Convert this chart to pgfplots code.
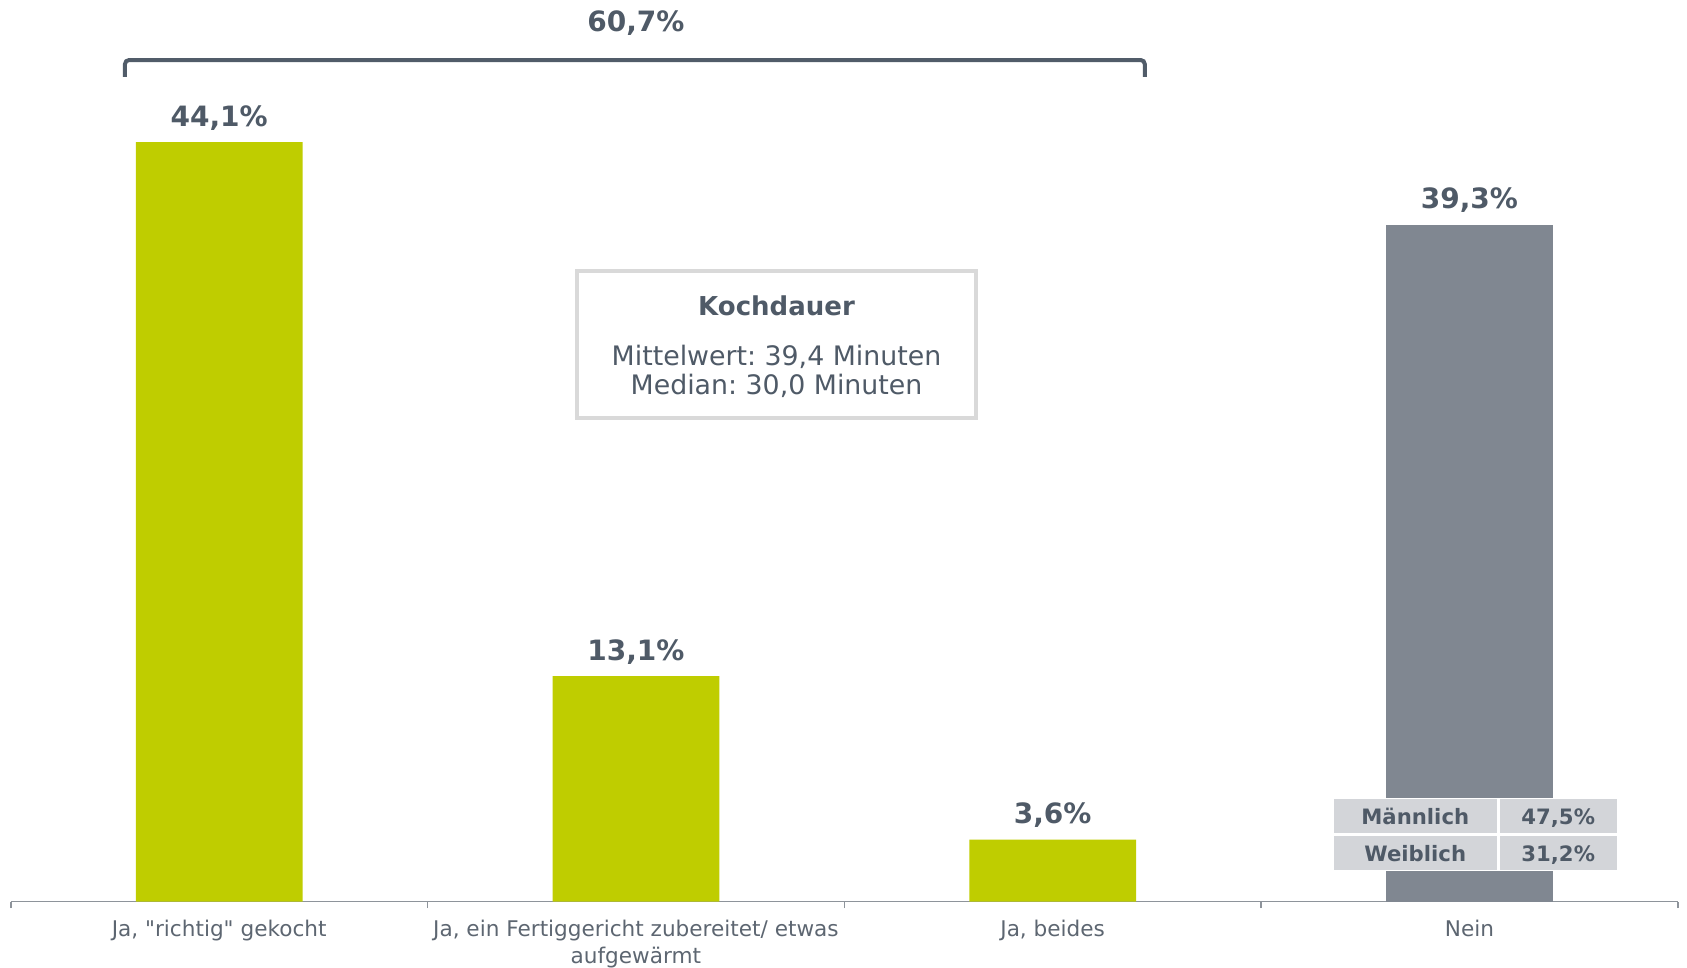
\documentclass[border=0pt]{standalone}
\usepackage{fontspec}
\setmainfont{DejaVu Sans}
\newfontfamily\qfont{DejaVu Sans}
\usepackage{pgfplots}
\pgfplotsset{compat=1.18}
\frenchspacing

\definecolor{cgreen}{HTML}{BFCD00}
\definecolor{bargray}{HTML}{808791}
\definecolor{labeltxt}{HTML}{4F5A67}
\definecolor{ticktxt}{HTML}{5D6671}
\definecolor{axisgray}{HTML}{8E949B}
\definecolor{boxgray}{HTML}{D9D9D9}
\definecolor{cellgray}{HTML}{D3D5D9}
\definecolor{bracket}{HTML}{515C69}

\newcommand{\dq}{{\qfont\symbol{34}}}

\begin{document}
\begin{tikzpicture}
\useasboundingbox (0,0) rectangle (843.5pt,484pt);
\begin{axis}[
  at={(5.4pt,33.2pt)}, anchor=south west,
  scale only axis,
  width=833.5pt, height=430.5pt,
  xmin=-0.5, xmax=3.5, ymin=0, ymax=50,
  axis y line=none,
  axis x line*=bottom,
  x axis line style={color=axisgray, line width=0.7pt},
  clip=false,
  xtick={-0.5,0.5,1.5,2.5,3.5},
  xticklabels={},
  tick align=outside,
  major tick length=3.3pt,
  tick style={color=axisgray, line width=0.7pt},
  extra x ticks={0,1,2,3},
  extra x tick labels={{Ja, \dq richtig\dq\ gekocht},{Ja, ein Fertiggericht zubereitet/ etwas\\aufgewärmt},{Ja, beides},{Nein}},
  extra x tick style={major tick length=0pt,
    tick label style={font=\fontsize{10.8}{13.2}\selectfont, color=ticktxt,
      align=center, anchor=north, inner sep=0pt, yshift=-9.2pt}},
  point meta=explicit symbolic,
  nodes near coords,
  nodes near coords style={font=\fontsize{14}{16}\selectfont\bfseries,
    color=labeltxt, anchor=base, yshift=8pt},
]
\addplot[ybar, bar width=0.4, bar shift=0pt, fill=cgreen, draw=none]
  coordinates {(0,44.1) [44,1\%] (1,13.1) [13,1\%] (2,3.6) [3,6\%]};
\addplot[ybar, bar width=0.4, bar shift=0pt, fill=bargray, draw=none]
  coordinates {(3,39.3) [39,3\%]};

% bracket over the "Ja" answers
\draw[bracket, line width=2pt, rounded corners=2pt]
  (axis cs:-0.226,47.9) |- (axis cs:2.221,48.87) -- (axis cs:2.221,47.9);
\node[anchor=base, font=\fontsize{14}{16}\selectfont\bfseries, color=labeltxt]
  at (axis cs:1.0,50.52) {60,7\%};

% Kochdauer box
\draw[boxgray, line width=2pt, fill=white]
  (axis cs:0.8586,36.62) rectangle (axis cs:1.816,28.07);
\node[anchor=base, font=\fontsize{13}{15}\selectfont\bfseries, color=labeltxt]
  at (axis cs:1.3374,34.06) {Kochdauer};
\node[anchor=base, font=\fontsize{13.4}{15}\selectfont, color=labeltxt]
  at (axis cs:1.3374,31.16) {Mittelwert: 39,4 Minuten};
\node[anchor=base, font=\fontsize{13.4}{15}\selectfont, color=labeltxt]
  at (axis cs:1.3374,29.42) {Median: 30,0 Minuten};

% gender table on the Nein bar
\fill[white] (axis cs:2.667,1.75) rectangle (axis cs:3.361,6.03);
\fill[cellgray] (axis cs:2.675,3.97) rectangle (axis cs:3.065,5.94);
\fill[cellgray] (axis cs:3.0734,3.97) rectangle (axis cs:3.353,5.94);
\fill[cellgray] (axis cs:2.675,1.835) rectangle (axis cs:3.065,3.81);
\fill[cellgray] (axis cs:3.0734,1.835) rectangle (axis cs:3.353,3.81);
\path[font=\fontsize{10.6}{12}\selectfont\bfseries, color=labeltxt]
  (axis cs:2.870,4.45) node[anchor=base] {Männlich}
  (axis cs:3.213,4.45) node[anchor=base] {47,5\%}
  (axis cs:2.870,2.32) node[anchor=base] {Weiblich}
  (axis cs:3.213,2.32) node[anchor=base] {31,2\%};
\end{axis}
\end{tikzpicture}
\end{document}
